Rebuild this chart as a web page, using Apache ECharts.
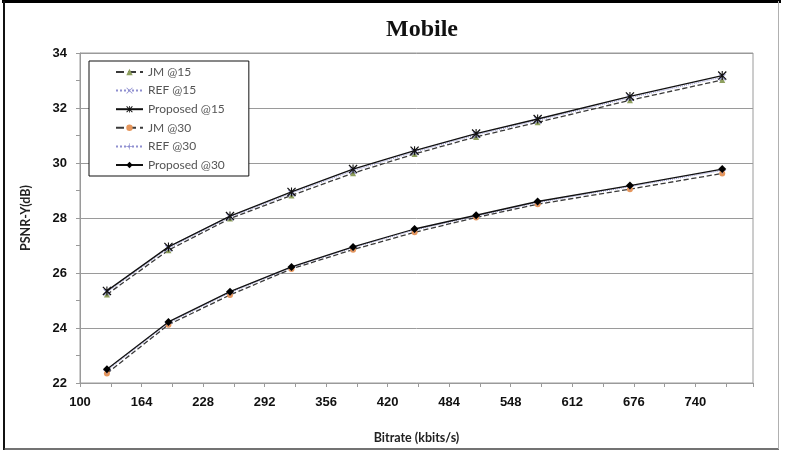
<!DOCTYPE html>
<html><head><meta charset="utf-8">
<script src="https://cdn.jsdelivr.net/npm/echarts@6/dist/echarts.min.js"></script>
<style>html,body{margin:0;padding:0;background:#fff}#c{width:787px;height:463px}</style>
</head><body><div id="c"></div>
<script>
const bitrates = [128, 192, 256, 320, 384, 448, 512, 576, 672, 768];
const jm15 = [25.22, 26.83, 27.98, 28.82, 29.63, 30.33, 30.95, 31.48, 32.28, 33.02];
const ref15 = [25.30, 26.90, 28.03, 28.90, 29.72, 30.40, 31.02, 31.55, 32.37, 33.12];
const prop15 = [25.35, 26.95, 28.07, 28.95, 29.78, 30.45, 31.07, 31.60, 32.42, 33.18];
const jm30 = [22.35, 24.12, 25.20, 26.15, 26.85, 27.48, 28.02, 28.50, 29.05, 29.62];
const ref30 = [22.45, 24.18, 25.28, 26.20, 26.92, 27.56, 28.07, 28.56, 29.14, 29.73];
const prop30 = [22.50, 24.22, 25.32, 26.22, 26.95, 27.60, 28.10, 28.60, 29.18, 29.78];
const xTicks = [100, 164, 228, 292, 356, 420, 484, 548, 612, 676, 740];
const yTicks = [22, 24, 26, 28, 30, 32, 34];

const pairs = ys => bitrates.map((x, i) => [x, ys[i]]);
const lbl = {fontFamily: 'Liberation Sans Narrow, Arial Narrow, Liberation Sans, sans-serif', fontWeight: 'bold', fontSize: 13, color: '#111'};

const SYM_X = 'path://M0,0.9L0.9,0L10,9.1L9.1,10Z M9.1,0L10,0.9L0.9,10L0,9.1Z';
const SYM_PLUS = 'path://M4.5,0H5.5V4.5H10V5.5H5.5V10H4.5V5.5H0V4.5H4.5Z';
const SYM_STAR = 'path://M0,1L1,0L10,9L9,10Z M9,0L10,1L1,10L0,9Z M4.4,0H5.6V10H4.4Z';

function mk(name, ys, lineType, lineColor, symbol, symColor, size, z) {
  return {
    name, type: 'line', data: pairs(ys), symbol, symbolSize: size, z,
    lineStyle: {type: lineType, color: lineColor, width: lineType === 'dotted' ? 1 : 1.3},
    itemStyle: {color: symColor, borderWidth: 0},
    animation: false
  };
}

const chart = echarts.init(document.getElementById('c'), null, {renderer: 'canvas'});
chart.setOption({
  animation: false,
  title: {text: 'Mobile', left: 417, top: 13, textAlign: 'center',
    textStyle: {fontFamily: 'Liberation Serif, Times New Roman, serif', fontWeight: 'bold', fontSize: 24, color: '#111'}},
  grid: {left: 80, top: 53, right: 34, bottom: 80, show: true, borderColor: '#9a9a9a', borderWidth: 1},
  legend: {
    orient: 'vertical', left: 89, top: 61,
    padding: [5, 24, 5, 26], itemGap: 6.6, itemWidth: 27, itemHeight: 8,
    backgroundColor: '#fff', borderColor: '#111', borderWidth: 1,
    textStyle: {fontFamily: 'Lato, Open Sans, sans-serif', fontSize: 12, color: '#555'},
    data: ['JM @15', 'REF @15', 'Proposed @15', 'JM @30', 'REF @30', 'Proposed @30']
  },
  xAxis: {
    type: 'value', min: 100, max: 800, interval: 64,
    name: 'Bitrate (kbits/s)', nameLocation: 'middle', nameGap: 48,
    nameTextStyle: {fontFamily: 'Lato, Open Sans, sans-serif', fontWeight: 'bold', fontSize: 12.5, color: '#222'},
    axisLine: {lineStyle: {color: '#9a9a9a'}},
    axisTick: {show: true, length: 4, lineStyle: {color: '#9a9a9a'}},
    minorTick: {show: true, splitNumber: 2, length: 4, lineStyle: {color: '#9a9a9a'}},
    splitLine: {show: false},
    axisLabel: Object.assign({margin: 13, showMaxLabel: false,
      formatter: v => xTicks.includes(v) ? String(v) : ''}, lbl)
  },
  yAxis: {
    type: 'value', min: 22, max: 34, interval: 2,
    name: 'PSNR-Y(dB)', nameLocation: 'middle', nameGap: 48, nameRotate: 90,
    nameTextStyle: {fontFamily: 'Lato, Open Sans, sans-serif', fontWeight: 'bold', fontSize: 12.5, color: '#222'},
    axisLine: {show: true, lineStyle: {color: '#9a9a9a'}},
    axisTick: {show: true, length: 4, lineStyle: {color: '#9a9a9a'}},
    minorTick: {show: true, splitNumber: 2, length: 4, lineStyle: {color: '#9a9a9a'}},
    splitLine: {show: true, lineStyle: {color: '#9a9a9a', width: 1}},
    axisLabel: Object.assign({margin: 13, formatter: v => yTicks.includes(v) ? String(v) : ''}, lbl)
  },
  graphic: [
    {type: 'line', shape: {x1: 2, y1: 1.5, x2: 781, y2: 1.5}, style: {stroke: '#000', lineWidth: 3}},
    {type: 'line', shape: {x1: 4, y1: 1, x2: 4, y2: 450}, style: {stroke: '#111', lineWidth: 2}},
    {type: 'line', shape: {x1: 4, y1: 449, x2: 779, y2: 449}, style: {stroke: '#444', lineWidth: 1.5}},
    {type: 'line', shape: {x1: 778.5, y1: 1, x2: 778.5, y2: 449}, style: {stroke: '#b0b0b0', lineWidth: 1}}
  ],
  series: [
    mk('JM @15', jm15, 'dashed', '#3a3a3a', 'triangle', '#8e9f5e', 6, 3),
    mk('REF @15', ref15, 'dotted', '#8f8fd0', SYM_X, '#8f8fd0', 7, 4),
    mk('Proposed @15', prop15, 'solid', '#111', SYM_STAR, '#111', 9, 5),
    mk('JM @30', jm30, 'dashed', '#3a3a3a', 'circle', '#e6965c', 6, 3),
    mk('REF @30', ref30, 'dotted', '#8f8fd0', SYM_PLUS, '#8f8fd0', 7, 4),
    mk('Proposed @30', prop30, 'solid', '#111', 'diamond', '#000', 8, 5)
  ]
});
</script></body></html>
